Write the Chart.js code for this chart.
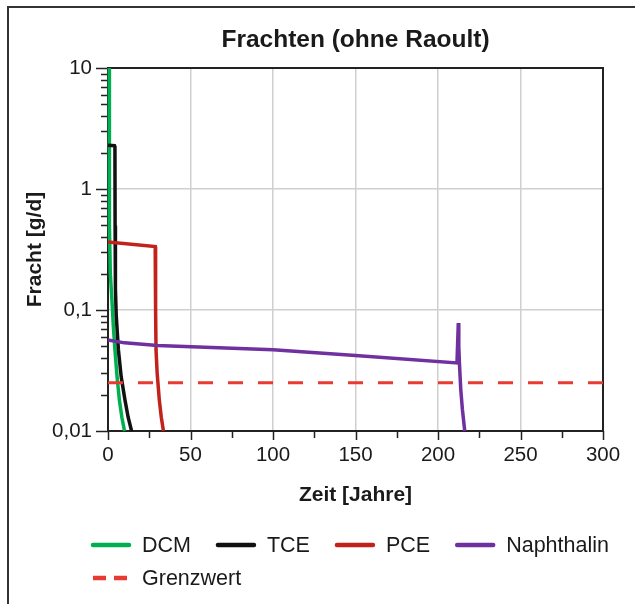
<!DOCTYPE html>
<html>
<head>
<meta charset="utf-8">
<script src="https://cdn.jsdelivr.net/npm/chart.js@4.4.1/dist/chart.umd.min.js"></script>
<style>
  html, body { margin: 0; padding: 0; background: #fff; }
</style>
</head>
<body>
<canvas id="grafFrachten" width="635" height="604"></canvas>
<script>
// Werte (Zeit in Jahren, Fracht in g/d)
const zeitDCM = [0.8, 0.8, 0.9, 1.4, 2.4, 3.2, 4.2, 5.5, 6.9, 8.4, 10];
const frachtDCM = [10, 2, 0.5, 0.2, 0.12, 0.075, 0.047, 0.028, 0.018, 0.013, 0.01];

const zeitTCE = [0, 3.9, 4.2, 4.3, 4.5, 5, 6.3, 8, 10.3, 12.2, 14.3];
const frachtTCE = [2.3, 2.28, 2.2, 0.5, 0.15, 0.09, 0.047, 0.028, 0.018, 0.013, 0.01];

const zeitPCE = [0, 28.6, 28.8, 28.9, 29.1, 29.8, 31.1, 32.3, 33.6];
const frachtPCE = [0.365, 0.335, 0.2, 0.1, 0.047, 0.03, 0.018, 0.013, 0.01];

const zeitNaph = [0, 10, 30, 100, 150, 211.5, 212.3, 212.6, 213, 213.8, 214.8, 216.2];
const frachtNaph = [0.0565, 0.0535, 0.051, 0.047, 0.042, 0.0365, 0.078, 0.05, 0.036, 0.022, 0.015, 0.01];

const zeitGrenz = [0, 300];
const frachtGrenz = [0.025, 0.025];

const serienNamen = ["DCM", "TCE", "PCE", "Naphthalin", "Grenzwert"];
const farben = ["#00b050", "#111111", "#c3221b", "#7030a0", "#e83a30"];

const yTickWerte = [0.01, 0.1, 1, 10];
const yTickTexte = ["0,01", "0,1", "1", "10"];
const xTickWerte = [0, 50, 100, 150, 200, 250, 300];

const schrift = '"Liberation Sans", Arial, sans-serif';

function punkte(xs, ys) {
    return xs.map((x, i) => ({ x: x, y: ys[i] }));
}

// Rahmen, Achsenstriche (vor den Linien gezeichnet)
const achsenPlugin = {
    id: "achsen",
    beforeDraw(chart) {
        const ctx = chart.ctx;
        ctx.save();
        ctx.fillStyle = "#fff";
        ctx.fillRect(0, 0, chart.width, chart.height);
        ctx.strokeStyle = "#333";
        ctx.lineWidth = 2;
        ctx.strokeRect(8, 7, chart.width + 20, chart.height + 20);
        ctx.restore();
    },
    beforeDatasetsDraw(chart) {
        const ctx = chart.ctx;
        const a = chart.chartArea;
        const xs = chart.scales.x, ys = chart.scales.y;
        ctx.save();
        ctx.strokeStyle = "#222";
        ctx.lineWidth = 1.5;
        ctx.beginPath();
        for (let e = -2; e < 1; e++) {
            for (let m = 1; m <= 10; m++) {
                const v = m * Math.pow(10, e);
                const py = Math.round(ys.getPixelForValue(v)) + 0.5;
                const len = (m === 1 || m === 10) ? 12 : 7;
                ctx.moveTo(a.left - len, py);
                ctx.lineTo(a.left, py);
            }
        }
        for (let t = 0; t <= 300; t += 25) {
            const px = Math.round(xs.getPixelForValue(t)) + 0.5;
            const len = t % 50 === 0 ? 9 : 7;
            ctx.moveTo(px, a.bottom);
            ctx.lineTo(px, a.bottom + len);
        }
        ctx.stroke();
        ctx.lineWidth = 2;
        ctx.strokeRect(a.left, a.top, a.right - a.left, a.bottom - a.top);
        ctx.restore();
    }
};

// Legende unten, linksbündig in zwei Zeilen
const legendePlugin = {
    id: "legende",
    afterDraw(chart) {
        const ctx = chart.ctx;
        ctx.save();
        ctx.font = "21.5px " + schrift;
        ctx.textBaseline = "middle";
        ctx.fillStyle = "#1a1a1a";
        let x = 91, y = 545;
        chart.data.datasets.forEach(ds => {
            const breite = 40 + 11 + ctx.measureText(ds.label).width;
            if (x + breite > 625) { x = 91; y += 33; }
            ctx.strokeStyle = ds.borderColor;
            ctx.lineWidth = 4.5;
            if (ds.borderDash && ds.borderDash.length) {
                ctx.setLineDash([13, 8]);
                ctx.lineCap = "butt";
            } else {
                ctx.setLineDash([]);
                ctx.lineCap = "round";
            }
            ctx.beginPath();
            ctx.moveTo(x + 2, y);
            ctx.lineTo(x + 38, y);
            ctx.stroke();
            ctx.fillText(ds.label, x + 51, y + 1);
            x += breite + 25;
        });
        ctx.restore();
    }
};

const datenReihen = [
    punkte(zeitDCM, frachtDCM),
    punkte(zeitTCE, frachtTCE),
    punkte(zeitPCE, frachtPCE),
    punkte(zeitNaph, frachtNaph),
    punkte(zeitGrenz, frachtGrenz)
];

const ctx = document.getElementById("grafFrachten").getContext("2d");
const mujGraf = new Chart(ctx, {
    type: "scatter",
    data: {
        datasets: datenReihen.map((d, i) => ({
            label: serienNamen[i],
            data: d,
            showLine: true,
            borderColor: farben[i],
            backgroundColor: farben[i],
            borderWidth: i === 4 ? 3 : 3.5,
            borderDash: i === 4 ? [15, 15] : [],
            pointRadius: 0,
            tension: 0,
            clip: 4,
            order: i === 4 ? 0 : 4 - i
        }))
    },
    options: {
        responsive: false,
        animation: false,
        layout: { padding: { left: 0, right: 32, top: 0, bottom: 93 } },
        plugins: {
            legend: { display: false },
            tooltip: { enabled: false },
            title: {
                display: true,
                text: "Frachten (ohne Raoult)",
                fullSize: false,
                color: "#1a1a1a",
                font: { family: schrift, size: 24.5, weight: "bold" },
                padding: { top: 26, bottom: 12.6 }
            }
        },
        scales: {
            x: {
                type: "linear",
                min: 0,
                max: 300,
                afterFit(s) { s.height = 80; s.paddingLeft = 0; s.paddingRight = 0; },
                ticks: {
                    stepSize: 25,
                    autoSkip: false,
                    maxRotation: 0,
                    padding: 12,
                    color: "#1a1a1a",
                    font: { family: schrift, size: 20.5 },
                    callback: v => xTickWerte.includes(v) ? String(v) : ""
                },
                grid: {
                    drawTicks: false,
                    lineWidth: 1.5,
                    color: c => (c.tick && c.tick.value % 50 === 0) ? "#cfcfcf" : "rgba(0,0,0,0)"
                },
                border: { display: false },
                title: {
                    display: true,
                    text: "Zeit [Jahre]",
                    color: "#1a1a1a",
                    font: { family: schrift, size: 21, weight: "bold" },
                    padding: { top: 0, bottom: 3 }
                }
            },
            y: {
                type: "logarithmic",
                min: 0.01,
                max: 10,
                afterFit(s) { s.width = 108; s.paddingTop = 0; s.paddingBottom = 0; },
                afterBuildTicks(s) { s.ticks = yTickWerte.map(v => ({ value: v })); },
                ticks: {
                    autoSkip: false,
                    padding: 16,
                    color: "#1a1a1a",
                    font: { family: schrift, size: 20.5 },
                    callback: v => {
                        const i = yTickWerte.findIndex(w => Math.abs(w - v) < v * 1e-6);
                        return i >= 0 ? yTickTexte[i] : "";
                    }
                },
                grid: { drawTicks: false, lineWidth: 1.5, color: "#cfcfcf" },
                border: { display: false },
                title: {
                    display: true,
                    text: "Fracht [g/d]",
                    color: "#1a1a1a",
                    font: { family: schrift, size: 21, weight: "bold" },
                    padding: { top: 23, bottom: 0 }
                }
            }
        }
    },
    plugins: [achsenPlugin, legendePlugin]
});
</script>
</body>
</html>
